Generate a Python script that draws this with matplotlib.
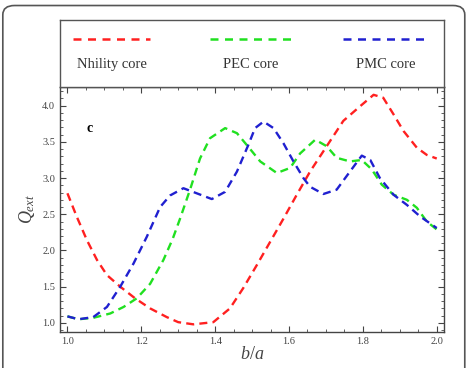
import matplotlib.pyplot as plt
from matplotlib.patches import FancyBboxPatch
from matplotlib.ticker import MultipleLocator

# data (b/a vs Q_ext)
x_red = [1.0, 1.025, 1.053, 1.08, 1.107, 1.143, 1.183, 1.224, 1.269, 1.30, 1.341,
         1.395, 1.44, 1.476, 1.513, 1.549, 1.585, 1.621, 1.657, 1.702, 1.747, 1.792,
         1.829, 1.855, 1.883, 1.91, 1.946, 1.973, 2.0]
y_red = [2.79, 2.47, 2.14, 1.87, 1.66, 1.50, 1.34, 1.20, 1.08, 1.01, 0.98,
         1.01, 1.20, 1.48, 1.80, 2.12, 2.44, 2.77, 3.09, 3.44, 3.79, 3.99,
         4.15, 4.11, 3.88, 3.65, 3.42, 3.32, 3.27]

x_green = [1.0, 1.03, 1.07, 1.116, 1.152, 1.188, 1.224, 1.26, 1.285, 1.305, 1.332,
           1.359, 1.386, 1.427, 1.459, 1.49, 1.522, 1.567, 1.603, 1.63, 1.671, 1.702,
           1.729, 1.765, 1.797, 1.824, 1.851, 1.883, 1.919, 1.946, 1.973, 2.0]
y_green = [1.09, 1.05, 1.07, 1.13, 1.22, 1.34, 1.54, 1.87, 2.16, 2.44, 2.84,
           3.27, 3.55, 3.69, 3.62, 3.43, 3.23, 3.07, 3.14, 3.34, 3.53, 3.44,
           3.28, 3.23, 3.25, 3.12, 2.91, 2.77, 2.70, 2.59, 2.40, 2.29]

x_blue = [1.0, 1.03, 1.07, 1.107, 1.143, 1.179, 1.215, 1.251, 1.278, 1.314, 1.35,
          1.391, 1.427, 1.459, 1.49, 1.508, 1.531, 1.558, 1.585, 1.612, 1.639, 1.657,
          1.693, 1.729, 1.765, 1.797, 1.82, 1.846, 1.883, 1.919, 1.955, 2.0]
y_blue = [1.09, 1.05, 1.08, 1.22, 1.50, 1.82, 2.19, 2.60, 2.76, 2.86, 2.79,
          2.71, 2.81, 3.09, 3.46, 3.69, 3.78, 3.69, 3.48, 3.23, 3.00, 2.88,
          2.78, 2.84, 3.09, 3.31, 3.25, 3.00, 2.77, 2.63, 2.47, 2.31]

labels = ["Nhility core", "PEC core", "PMC core"]
colors = ["#ff2020", "#20e020", "#2020d0"]

plt.rcParams['font.family'] = ['Liberation Serif', 'DejaVu Serif']
plt.rcParams['mathtext.fontset'] = 'custom'
plt.rcParams['mathtext.it'] = 'Liberation Serif:italic'
plt.rcParams['mathtext.rm'] = 'Liberation Serif'

fig = plt.figure(figsize=(4.69, 3.68), dpi=100)

# outer rounded frame
frame = FancyBboxPatch((0.006, -0.05), 0.985, 1.035, boxstyle="round,pad=0,rounding_size=0.025",
                       transform=fig.transFigure, facecolor="none", edgecolor="#555555", lw=1.2)
fig.patches.append(frame)

ax = fig.add_axes([0.128, 0.098, 0.819, 0.666])
lax = fig.add_axes([0.128, 0.764, 0.819, 0.182])

dash = (0, (3.4, 2.2))
for xs, ys, c in [(x_red, y_red, colors[0]), (x_green, y_green, colors[1]), (x_blue, y_blue, colors[2])]:
    ax.plot(xs, ys, color=c, lw=1.7, linestyle=dash)

ax.set_xlim(0.98, 2.02)
ax.set_ylim(0.875, 4.26)
ax.xaxis.set_major_locator(MultipleLocator(0.2))
ax.xaxis.set_minor_locator(MultipleLocator(0.05))
ax.yaxis.set_major_locator(MultipleLocator(0.5))
ax.yaxis.set_minor_locator(MultipleLocator(0.1))
ax.tick_params(which='both', direction='in', top=True, right=True, labelsize=7.5,
               color='#444444', labelcolor='#444444')
ax.tick_params(which='major', length=4)
ax.tick_params(which='minor', length=2)
for s in ax.spines.values():
    s.set_color('#444444')
    s.set_linewidth(1.0)
ax.set_xlabel("$b/a$", fontsize=13, color='#444444', labelpad=0)
ax.set_ylabel("$Q_{ext}$", fontsize=13, color='#444444', labelpad=4)
ax.text(1.059, 3.68, "c", fontsize=10, fontweight='bold', ha='center', va='center')

# legend panel
lax.set_xlim(0, 1)
lax.set_ylim(0, 1)
lax.set_xticks([])
lax.set_yticks([])
for s in lax.spines.values():
    s.set_color('#555555')
    s.set_linewidth(1.0)
seg = [(0.034, 0.234), (0.39, 0.604), (0.737, 0.958)]
for (a, b), c, lab in zip(seg, colors, labels):
    lax.plot([a, b], [0.71, 0.71], color=c, lw=1.8, linestyle=(0, (3.2, 2.6)))
    lax.text((a + b) / 2, 0.33, lab, ha='center', va='center', fontsize=10.5, color='#333333')

fig.savefig("out.png", dpi=100)
